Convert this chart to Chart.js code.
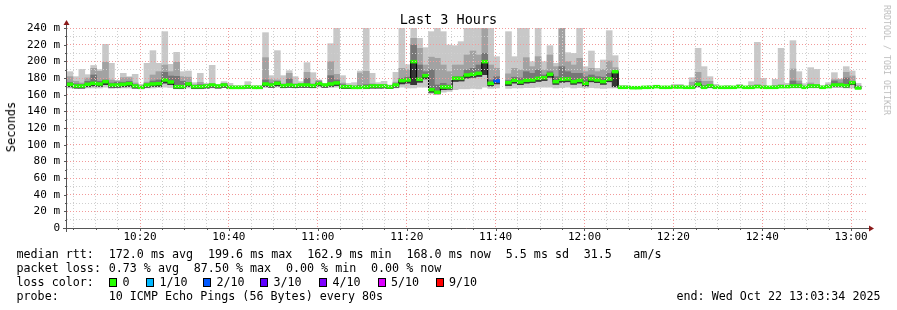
<!DOCTYPE html>
<html>
<head>
<meta charset="utf-8">
<title>Last 3 Hours</title>
<script src="https://cdn.jsdelivr.net/npm/chart.js@4.4.1/dist/chart.umd.min.js"></script>
<style>
  body { margin: 0; background: #fff; }
  #wrap { position: relative; width: 897px; height: 310px; overflow: hidden;
          font-family: 'DejaVu Sans Mono', monospace; color: #000; }
  #wrap canvas { position: absolute; left: 0; top: 0; }
  .txt { position: absolute; white-space: pre; font-size: 11.7px; line-height: 14px; }
  .box { position: absolute; width: 6px; height: 7px; border: 1px solid #000; }
  #title { position: absolute; left: 0; width: 897px; top: 11px; text-align: center;
           font-size: 13.5px; line-height: 17px; }
  #ylabel { position: absolute; left: 11px; top: 127px; font-size: 12px; white-space: pre;
            transform: translate(-50%, -50%) rotate(-90deg); }
  #brand { position: absolute; left: 887px; top: 60px; font-size: 8.3px; color: #bdbdbd;
           white-space: pre; transform: translate(-50%, -50%) rotate(90deg); }
</style>
</head>
<body>
<div id="wrap">
  <canvas id="chart" width="897" height="310"></canvas>
  <div id="title">Last 3 Hours</div>
  <div id="ylabel">Seconds</div>
  <div id="brand">RRDTOOL / TOBI OETIKER</div>
</div>
<script>
// time axis: minutes after 10:00, one probe round every 80 s
const startMinute = 3 + 34 / 60;   // 10:03:34
const endMinute = 183 + 34 / 60;   // 13:03:34
const stepMinutes = 80 / 60;

const xTickLabels = ['10:20', '10:40', '11:00', '11:20', '11:40', '12:00', '12:20', '12:40', '13:00'];
const yTickLabels = ['0', '20 m', '40 m', '60 m', '80 m', '100 m', '120 m', '140 m',
                     '160 m', '180 m', '200 m', '220 m', '240 m'];

// median round trip time per step (ms)
const medianRtt = [
  172.4, 170.4, 170.4, 172.4, 173.6, 172.8, 175.6, 171.6, 171.6, 172.4,
  173.2, 170.4, 168.8, 171.6, 172.8, 173.2, 177.6, 175.2, 169.6, 169.6,
  172.8, 169.6, 169.6, 170.4, 171.6, 170.4, 171.6, 168.8, 168.8, 168.8,
  169.6, 168.8, 168.8, 172.8, 171.6, 173.6, 170.8, 171.6, 170.8, 171.6,
  171.6, 170.8, 173.2, 171.6, 172.8, 174.0, 169.6, 169.6, 168.8, 168.8,
  169.2, 170.4, 170.4, 170.4, 169.2, 171.6, 176.8, 177.6, 199.6, 178.4,
  182.8, 166.0, 162.9, 169.2, 169.2, 179.6, 179.6, 183.6, 184.4, 185.6,
  199.6, 173.6, 176.4, null, 174.4, 177.2, 175.2, 177.2, 177.6, 179.6,
  180.4, 184.4, 175.6, 178.4, 178.8, 175.6, 177.2, 173.6, 178.8, 177.6,
  175.6, 178.8, 187.6, 168.8, 168.8, 168.4, 168.4, 168.8, 168.8, 169.6,
  168.8, 168.8, 169.2, 169.2, 168.8, 168.8, 172.4, 168.8, 170.8, 168.8,
  168.8, 168.8, 168.8, 169.6, 168.8, 168.8, 169.6, 168.8, 168.8, 168.8,
  169.6, 169.6, 170.4, 170.4, 168.8, 170.4, 170.4, 168.8, 169.6, 171.6,
  171.6, 170.8, 174.4, 168.0, null
];
// slowest ping per step (ms)
const maxRtt = [
  187.6, 181.6, 190.4, 184.0, 195.0, 190.0, 220.4, 197.6, 177.0, 185.6,
  181.6, 184.4, 172.4, 197.6, 212.8, 197.6, 235.6, 196.4, 210.8, 187.6,
  188.4, 174.4, 185.6, 173.6, 195.2, 172.0, 175.6, 173.6, 170.8, 170.8,
  175.6, 170.8, 170.8, 234.4, 182.8, 212.8, 182.8, 188.8, 181.6, 175.6,
  198.4, 186.4, 177.6, 173.6, 221.2, 240.0, 182.8, 173.5, 174.4, 188.4,
  240.0, 185.6, 174.4, 176.0, 171.6, 186.8, 240.0, 196.0, 240.0, 227.6,
  216.4, 235.6, 240.0, 235.6, 219.6, 218.8, 223.6, 240.0, 240.0, 240.0,
  240.0, 240.0, 205.6, null, 235.6, 205.6, 240.0, 240.0, 199.6, 240.0,
  199.6, 218.8, 197.6, 240.0, 210.4, 209.6, 240.0, 193.6, 212.4, 191.6,
  201.6, 236.8, 206.8, 170.8, 170.8, 169.6, 169.6, 170.0, 170.8, 170.8,
  170.0, 169.6, 172.4, 172.4, 170.0, 180.4, 215.6, 193.6, 181.6, 172.4,
  170.0, 170.8, 170.0, 172.4, 170.0, 175.6, 222.8, 179.6, 170.0, 178.4,
  215.6, 173.6, 224.8, 187.6, 173.2, 192.4, 190.4, 170.8, 174.4, 186.4,
  178.8, 193.6, 188.4, 173.6, null
];
// upper edge of the middle smoke band (ms)
const highRtt = [
  181.6, 176.0, 174.0, 180.0, 191.6, 188.0, 198.8, 177.6, 176.4, 180.4,
  180.4, 174.0, 170.5, 175.0, 183.6, 187.6, 195.6, 187.6, 198.8, 181.6,
  181.0, 172.0, 174.8, 172.0, 173.0, 171.5, 173.6, 170.5, 170.0, 170.0,
  171.0, 170.0, 170.0, 204.4, 178.0, 177.6, 173.0, 185.6, 173.0, 173.0,
  186.8, 173.0, 177.0, 172.5, 199.6, 184.4, 174.0, 171.0, 170.5, 186.0,
  188.0, 173.0, 172.0, 172.0, 170.5, 175.0, 191.6, 190.0, 227.6, 215.6,
  195.6, 205.0, 203.6, 195.6, 187.6, 195.6, 195.6, 207.6, 212.4, 207.6,
  240.0, 195.6, 191.6, null, 185.0, 191.6, 189.6, 204.4, 193.6, 205.6,
  189.6, 207.6, 193.6, 240.0, 199.6, 195.6, 203.6, 187.6, 191.6, 187.6,
  190.0, 200.4, 192.4, 169.5, 169.5, 169.0, 169.0, 169.5, 169.5, 170.0,
  169.5, 169.0, 170.0, 170.0, 169.5, 175.0, 186.8, 176.0, 176.0, 170.0,
  169.5, 169.5, 169.5, 170.0, 169.5, 171.0, 172.0, 171.0, 169.5, 171.0,
  172.0, 171.0, 190.8, 176.4, 170.0, 174.0, 172.0, 169.5, 172.0, 178.0,
  178.0, 186.8, 182.4, 171.0, null
];
// upper edge of the dark smoke band (ms)
const upperRtt = [
  175.0, 173.0, 172.5, 176.0, 183.6, 176.0, 177.6, 174.0, 175.0, 175.0,
  176.0, 172.0, 170.0, 173.0, 176.4, 177.6, 186.8, 182.4, 182.0, 176.0,
  174.8, 171.0, 172.0, 171.5, 172.5, 171.0, 173.0, 170.0, 169.5, 169.5,
  170.5, 169.5, 169.5, 177.6, 174.0, 176.0, 172.0, 178.8, 172.0, 172.5,
  179.6, 172.0, 175.5, 172.0, 182.8, 177.6, 172.0, 170.5, 170.0, 171.0,
  172.0, 172.0, 171.5, 171.5, 170.0, 173.0, 179.6, 181.0, 219.6, 195.6,
  187.6, 190.0, 171.6, 173.6, 171.6, 181.6, 181.6, 189.6, 191.6, 195.6,
  209.6, 177.6, 181.6, null, 177.0, 181.0, 180.0, 187.6, 185.6, 189.6,
  183.6, 187.6, 181.6, 193.6, 187.6, 185.6, 185.6, 181.6, 183.6, 181.6,
  181.0, 185.6, 188.4, 169.0, 169.0, 168.6, 168.6, 169.0, 169.0, 169.8,
  169.0, 169.0, 169.4, 169.4, 169.0, 170.0, 176.0, 171.0, 172.0, 169.0,
  169.0, 169.0, 169.0, 169.8, 169.0, 169.0, 170.0, 169.0, 169.0, 169.0,
  170.0, 169.8, 176.4, 173.0, 169.0, 172.0, 171.5, 169.0, 171.0, 176.4,
  174.0, 180.0, 176.0, 170.0, null
];
// lower edge of the dark smoke bands (ms)
const lowRtt = [
  169.5, 168.0, 168.0, 169.5, 170.5, 170.0, 172.0, 169.0, 169.0, 169.5,
  170.0, 168.0, 167.5, 169.0, 170.0, 170.0, 174.0, 172.0, 167.5, 167.5,
  170.0, 167.5, 167.5, 168.0, 169.0, 168.0, 169.0, 167.5, 167.5, 167.5,
  168.0, 167.5, 167.5, 170.0, 169.0, 170.5, 168.5, 169.0, 168.5, 169.0,
  169.0, 168.5, 170.5, 169.0, 170.0, 171.0, 167.5, 167.5, 167.5, 167.5,
  167.5, 168.0, 168.0, 168.0, 167.5, 169.0, 173.0, 174.0, 172.0, 175.0,
  179.0, 163.0, 161.0, 166.0, 166.5, 176.0, 176.5, 180.0, 181.0, 182.0,
  184.0, 170.5, 173.0, null, 171.0, 174.0, 172.0, 174.0, 174.5, 176.0,
  177.0, 181.0, 172.5, 175.0, 175.5, 172.5, 174.0, 170.5, 175.5, 174.5,
  172.5, 175.5, 169.5, 168.3, 168.3, 167.9, 167.9, 168.3, 168.3, 169.1,
  168.3, 168.3, 168.7, 168.7, 168.3, 168.3, 170.0, 168.3, 169.0, 168.3,
  168.3, 168.3, 168.3, 169.1, 168.3, 168.3, 169.1, 168.3, 168.3, 168.3,
  169.1, 169.1, 169.0, 169.0, 168.3, 169.0, 169.0, 168.3, 169.1, 169.5,
  169.5, 169.0, 172.0, 167.5, null
];
// fastest ping per step (ms)
const minRtt = [
  168.0, 167.5, 167.5, 168.0, 168.0, 168.0, 169.0, 167.5, 168.0, 168.0,
  168.0, 167.5, 167.0, 168.0, 168.0, 168.5, 169.0, 168.5, 167.0, 167.0,
  168.0, 167.0, 167.0, 167.5, 168.0, 168.0, 168.5, 167.0, 167.0, 167.0,
  167.5, 167.0, 167.0, 168.5, 168.5, 169.0, 168.0, 168.5, 168.0, 168.5,
  168.5, 168.0, 169.0, 168.5, 168.5, 169.0, 167.5, 167.5, 167.0, 167.0,
  167.0, 168.0, 168.0, 168.0, 167.5, 168.0, 169.0, 168.0, 168.0, 169.0,
  169.0, 161.0, 160.5, 163.0, 164.0, 166.0, 167.0, 167.0, 167.5, 167.0,
  169.0, 167.5, 168.0, null, 167.5, 168.0, 168.0, 168.5, 168.5, 169.0,
  169.0, 169.0, 168.0, 168.5, 169.0, 168.0, 168.5, 168.0, 168.5, 168.0,
  167.5, 168.0, 168.0, 167.8, 167.8, 167.4, 167.4, 167.8, 167.8, 168.5,
  167.8, 167.8, 168.2, 168.2, 167.8, 167.8, 168.5, 167.8, 168.0, 167.8,
  167.8, 167.8, 167.8, 168.5, 167.8, 167.8, 168.5, 167.8, 167.8, 167.8,
  168.5, 168.5, 168.0, 168.0, 167.8, 168.0, 168.0, 167.8, 168.5, 168.5,
  168.5, 168.0, 168.0, 167.0, null
];
// lost pings out of 10 per step
const lostPings = [
  0, 0, 0, 0, 0, 0, 0, 0, 0, 0,  0, 0, 0, 0, 0, 0, 0, 0, 0, 0,
  0, 0, 0, 0, 0, 0, 0, 0, 0, 0,  0, 0, 0, 0, 0, 0, 0, 0, 0, 0,
  0, 0, 0, 0, 0, 0, 0, 0, 0, 0,  0, 0, 0, 0, 0, 0, 0, 0, 0, 0,
  0, 0, 0, 0, 0, 0, 0, 0, 0, 0,  0, 0, 2, 9, 0, 0, 0, 0, 0, 0,
  0, 0, 0, 0, 0, 0, 0, 0, 0, 0,  0, 0, 0, 0, 0, 0, 0, 0, 0, 0,
  0, 0, 0, 0, 0, 0, 0, 0, 0, 0,  0, 0, 0, 0, 0, 0, 0, 0, 0, 0,
  0, 0, 0, 0, 0, 0, 0, 0, 0, 0,  0, 0, 0, 0, 0
];

const lossLabels = ['0', '1/10', '2/10', '3/10', '4/10', '5/10', '9/10'];
const lossColors = ['#26ff00', '#00b8ff', '#0059ff', '#5e00ff', '#7e00ff', '#dd00ff', '#ff0000'];

const rttStats = ['172.0 ms avg', '199.6 ms max', '162.9 ms min', '168.0 ms now', '5.5 ms sd', '31.5', 'am/s'];
const lossStats = ['0.73 % avg', '87.50 % max', '0.00 % min', '0.00 % now'];
const probeText = '10 ICMP Echo Pings (56 Bytes) every 80s';
const endText = 'end: Wed Oct 22 13:03:34 2025';

// ---- build datasets ----
const stepCenter = medianRtt.map((_, i) => startMinute + (i + 0.5) * stepMinutes);

function band(lo, hi) {
  const pts = [];
  stepCenter.forEach((x, i) => {
    if (lo[i] != null && hi[i] != null) pts.push({ x: x, y: [lo[i], hi[i]] });
  });
  return pts;
}

function lossColor(n) {
  return lossColors[n <= 5 ? n : 6];
}

const medianThick = 1.7;  // half height of the coloured median mark, in ms
const medianMarks = [];
const medianColors = [];
stepCenter.forEach((x, i) => {
  if (medianRtt[i] == null) return;
  medianMarks.push({ x: x, y: [medianRtt[i] - medianThick, medianRtt[i] + medianThick] });
  medianColors.push(lossColor(lostPings[i]));
});

const xGrid = [];
for (let m = 5; m < endMinute; m += 5) xGrid.push(m);
const yGrid = [];
for (let v = 0; v <= 240; v += 10) yGrid.push(v);

const majorGrid = '#f29a9a';
const minorGrid = '#cfcfcf';
const tickFont = { family: "'DejaVu Sans Mono', monospace", size: 11 };

// axis lines, small tick marks and arrow heads like rrdtool draws them
const rrdAxes = {
  id: 'rrdAxes',
  afterDraw(chart) {
    const { ctx, chartArea: a, scales } = chart;
    ctx.save();
    ctx.strokeStyle = '#555';
    ctx.lineWidth = 1;
    ctx.beginPath();
    scales.x.ticks.forEach(t => {
      const px = Math.round(scales.x.getPixelForValue(t.value)) + 0.5;
      ctx.moveTo(px, a.bottom);
      ctx.lineTo(px, a.bottom + (t.value % 20 === 0 ? 3 : 2));
    });
    scales.y.ticks.forEach(t => {
      const py = Math.round(scales.y.getPixelForValue(t.value)) + 0.5;
      ctx.moveTo(a.left - (t.value % 20 === 0 ? 3 : 2), py);
      ctx.lineTo(a.left, py);
    });
    ctx.moveTo(a.left - 0.5, a.top - 6);
    ctx.lineTo(a.left - 0.5, a.bottom + 4);
    ctx.moveTo(a.left - 4, a.bottom + 0.5);
    ctx.lineTo(a.right + 3, a.bottom + 0.5);
    ctx.stroke();

    ctx.fillStyle = '#8b1a1a';
    ctx.beginPath();
    ctx.moveTo(a.left - 0.5, a.top - 8);
    ctx.lineTo(a.left - 3.5, a.top - 3);
    ctx.lineTo(a.left + 2.5, a.top - 3);
    ctx.closePath();
    ctx.fill();
    ctx.beginPath();
    ctx.moveTo(a.right + 7, a.bottom + 0.5);
    ctx.lineTo(a.right + 2, a.bottom - 2.5);
    ctx.lineTo(a.right + 2, a.bottom + 3.5);
    ctx.closePath();
    ctx.fill();
    ctx.restore();
  }
};

new Chart(document.getElementById('chart'), {
  type: 'bar',
  data: {
    datasets: [
      { label: 'min-max', data: band(minRtt, maxRtt), backgroundColor: '#c8c8c8', order: 6 },
      { label: 'high', data: band(lowRtt, highRtt), backgroundColor: '#a2a2a2', order: 5 },
      { label: 'upper', data: band(lowRtt, upperRtt), backgroundColor: '#767676', order: 4 },
      { label: 'core', data: band(lowRtt, medianRtt), backgroundColor: '#363636', order: 3 },
      {
        type: 'line', label: 'median',
        data: stepCenter.map((x, i) => ({ x: x, y: medianRtt[i] })),
        borderColor: '#000', borderWidth: 1, stepped: 'middle',
        pointRadius: 0, fill: false, order: 2
      },
      { label: 'median rtt', data: medianMarks, backgroundColor: medianColors, order: 1 }
    ]
  },
  options: {
    responsive: false,
    animation: false,
    devicePixelRatio: 1,
    layout: { padding: { left: 0, right: 30, top: 28, bottom: 0 } },
    datasets: {
      bar: { grouped: false, barPercentage: 1, categoryPercentage: 1, borderWidth: 0 }
    },
    plugins: { legend: { display: false }, tooltip: { enabled: false }, title: { display: false } },
    scales: {
      x: {
        type: 'linear',
        min: startMinute,
        max: endMinute,
        offset: false,
        afterFit: s => { s.height = 82; },
        afterBuildTicks: s => { s.ticks = xGrid.map(v => ({ value: v })); },
        grid: {
          z: 1, offset: false, drawTicks: false, lineWidth: 1,
          color: c => (c.tick && c.tick.value % 20 === 0 ? majorGrid : minorGrid)
        },
        border: { display: false, dash: [1, 2] },
        ticks: {
          autoSkip: false, maxRotation: 0, padding: 3, color: '#000', font: tickFont,
          callback: v => (v % 20 === 0 ? xTickLabels[v / 20 - 1] : '')
        }
      },
      y: {
        min: 0,
        max: 240,
        afterFit: s => { s.width = 67; },
        afterBuildTicks: s => { s.ticks = yGrid.map(v => ({ value: v })); },
        grid: {
          z: 1, drawTicks: false, lineWidth: 1,
          color: c => (c.tick && c.tick.value % 20 === 0 ? majorGrid : minorGrid)
        },
        border: { display: false, dash: [1, 2] },
        ticks: {
          autoSkip: false, padding: 7, color: '#000', font: tickFont,
          callback: v => (v % 20 === 0 ? yTickLabels[v / 20] : '')
        }
      }
    }
  },
  plugins: [rrdAxes]
});

// ---- legend lines under the graph (monospace columns, ~7.09 px per character) ----
const wrap = document.getElementById('wrap');
const col = n => 16.5 + n * 7.09;
function put(text, x, yMid) {
  const d = document.createElement('div');
  d.className = 'txt';
  d.style.left = x + 'px';
  d.style.top = (yMid - 7.3) + 'px';
  d.textContent = text;
  wrap.appendChild(d);
}

put('median rtt:', col(0), 254.3);
[13, 27, 41, 55, 69, 80, 87].forEach((n, i) => put(rttStats[i], col(n), 254.3));

put('packet loss:', col(0), 268.3);
[13, 25, 38, 50].forEach((n, i) => put(lossStats[i], col(n), 268.3));

put('loss color:', col(0), 282.3);
[109, 146, 203, 260, 319, 377.5, 435.5].forEach((x, i) => {
  const b = document.createElement('div');
  b.className = 'box';
  b.style.left = x + 'px';
  b.style.top = '277.5px';
  b.style.background = lossColors[i];
  wrap.appendChild(b);
  put(lossLabels[i], x + 13.5, 282.3);
});

put('probe:', col(0), 296.7);
put(probeText, col(13), 296.7);
put(endText, 676.5, 296.7);
</script>
</body>
</html>
